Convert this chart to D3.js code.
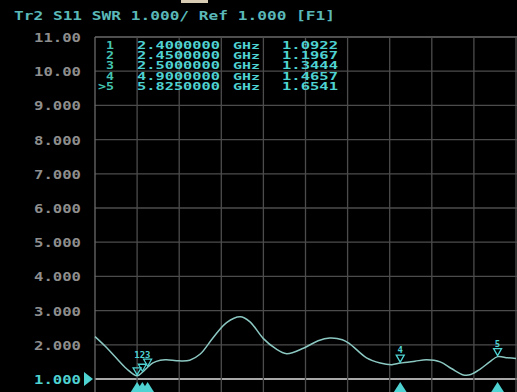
<!DOCTYPE html>
<html>
<head>
<meta charset="utf-8">
<script src="https://cdn.jsdelivr.net/npm/d3@7"></script>
<style>
  html, body { margin: 0; padding: 0; background: #000; }
  svg { display: block; }
  text { font-family: "DejaVu Sans Mono", "Liberation Mono", monospace; }
</style>
</head>
<body>
<svg id="chart" width="517" height="392"></svg>
<script>
// Frequency sweep (GHz) and measured SWR of trace 2 (S11)
const sweepFreq = [2.00, 2.10, 2.20, 2.30, 2.40, 2.45, 2.50, 2.55, 2.62, 2.68, 2.80, 2.90, 3.00, 3.12, 3.25, 3.38, 3.47, 3.60, 3.71, 3.82, 3.98, 4.12, 4.23, 4.35, 4.42, 4.58, 4.71, 4.82, 4.90, 5.04, 5.15, 5.28, 5.39, 5.50, 5.57, 5.66, 5.75, 5.825, 5.92, 6.00];
const sweepSWR  = [2.24, 1.95, 1.62, 1.30, 1.0922, 1.1967, 1.3444, 1.47, 1.55, 1.56, 1.53, 1.55, 1.73, 2.20, 2.65, 2.82, 2.68, 2.18, 1.90, 1.74, 1.90, 2.12, 2.20, 2.15, 2.03, 1.62, 1.47, 1.42, 1.4657, 1.52, 1.56, 1.50, 1.30, 1.12, 1.13, 1.29, 1.50, 1.6541, 1.62, 1.60];

// Marker table
const markerIds   = ["1", "2", "3", "4", "5"];
const markerFreq  = [2.40, 2.45, 2.50, 4.90, 5.825];
const markerSWR   = [1.0922, 1.1967, 1.3444, 1.4657, 1.6541];
const activeMarker = "5";

// Axis ticks
const yTicks = [1, 2, 3, 4, 5, 6, 7, 8, 9, 10, 11];
const yTickLabels = ["1.000", "2.000", "3.000", "4.000", "5.000", "6.000", "7.000", "8.000", "9.000", "10.00", "11.00"];
const xGrid = d3.range(0, 11).map(i => 2 + i * 0.4);

const headerText = "Tr2 S11 SWR 1.000/ Ref 1.000 [F1]";

const svg = d3.select("#chart");
const x = d3.scaleLinear().domain([2, 6]).range([95, 516]);
const y = d3.scaleLinear().domain([1, 11]).range([379, 37]);

const cyan = "#4fd2d2";
const teal = "#5ab8b8";

// Background
svg.append("rect").attr("width", 517).attr("height", 392).attr("fill", "#000");

// Small softkey tab at top edge
svg.append("rect").attr("x", 181).attr("y", 0).attr("width", 27).attr("height", 3).attr("fill", "#d8cdb4");

// Header line
svg.append("text")
  .attr("x", 14).attr("y", 20)
  .attr("fill", teal)
  .attr("font-size", 13).attr("font-weight", "bold")
  .attr("textLength", 321).attr("lengthAdjust", "spacingAndGlyphs")
  .text(headerText);

// Grid
const grid = svg.append("g");
grid.selectAll("line.h").data(yTicks).join("line")
  .attr("class", "h")
  .attr("x1", x(2)).attr("x2", 517)
  .attr("y1", d => y(d)).attr("y2", d => y(d))
  .attr("stroke", d => d === 1 ? "#a8a8a8" : (d === 11 ? "#6a6a6a" : "#4c4c4c"))
  .attr("stroke-width", d => d === 1 ? 2 : 1.3);
grid.selectAll("line.v").data(xGrid).join("line")
  .attr("class", "v")
  .attr("x1", d => x(d)).attr("x2", d => x(d))
  .attr("y1", y(11)).attr("y2", 392)
  .attr("stroke", d => d === 2 ? "#6a6a6a" : "#4c4c4c")
  .attr("stroke-width", 1.3);

// Y tick labels
svg.append("g").selectAll("text").data(yTicks).join("text")
  .attr("x", 81).attr("y", d => y(d) + 5)
  .attr("text-anchor", "end")
  .attr("fill", d => d === 1 ? cyan : "#8e8e8e")
  .attr("font-size", 13).attr("font-weight", "bold")
  .attr("textLength", 47).attr("lengthAdjust", "spacingAndGlyphs")
  .text((d, i) => yTickLabels[i]);

// Reference level pointer
svg.append("path")
  .attr("d", d3.line()([[84, y(1) - 7], [93, y(1)], [84, y(1) + 7]]) + "Z")
  .attr("fill", cyan);

// Trace
const line = d3.line()
  .x((d, i) => x(sweepFreq[i]))
  .y(d => y(d))
  .curve(d3.curveCatmullRom.alpha(0.5));
svg.append("path")
  .attr("d", line(sweepSWR))
  .attr("fill", "none")
  .attr("stroke", "#8cc8c2")
  .attr("stroke-width", 1.5);

// Marker table
const table = svg.append("g").attr("font-size", 10).attr("font-weight", "bold");
markerIds.forEach((id, i) => {
  const ty = 49 + i * 10.2;
  const label = id === activeMarker ? ">" + id : id;
  table.append("text").attr("x", id === activeMarker ? 98 : 106).attr("y", ty)
    .attr("fill", "#44c4b0")
    .attr("textLength", id === activeMarker ? 16 : 8).attr("lengthAdjust", "spacingAndGlyphs")
    .text(label);
  table.append("text").attr("x", 137).attr("y", ty)
    .attr("fill", cyan)
    .attr("textLength", 83).attr("lengthAdjust", "spacingAndGlyphs")
    .text(markerFreq[i].toFixed(7));
  table.append("text").attr("x", 233).attr("y", ty)
    .attr("fill", cyan).attr("font-size", 9)
    .attr("textLength", 27).attr("lengthAdjust", "spacingAndGlyphs")
    .text("GHz");
  table.append("text").attr("x", 282).attr("y", ty)
    .attr("fill", cyan)
    .attr("textLength", 56).attr("lengthAdjust", "spacingAndGlyphs")
    .text(markerSWR[i].toFixed(4));
});

// Markers on the trace: outlined pointer with id above
const mk = svg.append("g");
markerIds.forEach((id, i) => {
  const mx = x(markerFreq[i]);
  const my = y(markerSWR[i]);
  mk.append("path")
    .attr("d", d3.line()([[mx - 4, my - 8], [mx + 4, my - 8], [mx, my - 1]]) + "Z")
    .attr("fill", "none").attr("stroke", cyan).attr("stroke-width", 1.3);
  if (id === activeMarker || id === "4") {
    mk.append("text")
      .attr("x", mx).attr("y", my - 10)
      .attr("text-anchor", "middle")
      .attr("fill", cyan).attr("font-size", 9).attr("font-weight", "bold")
      .text(id);
  }
  // Position pointer on the frequency axis
  mk.append("path")
    .attr("d", d3.line()([[mx - 7, 393], [mx + 7, 393], [mx, 382]]) + "Z")
    .attr("fill", cyan);
});
// Ids of the closely spaced markers 1-3, stacked beside their pointers
const cluster = markerIds.filter(id => id !== activeMarker && id !== "4");
mk.append("text")
  .attr("x", x(markerFreq[1])).attr("y", y(markerSWR[2]) - 9)
  .attr("text-anchor", "middle")
  .attr("fill", cyan).attr("font-size", 9).attr("font-weight", "bold")
  .text(cluster.join(""));
</script>
</body>
</html>
